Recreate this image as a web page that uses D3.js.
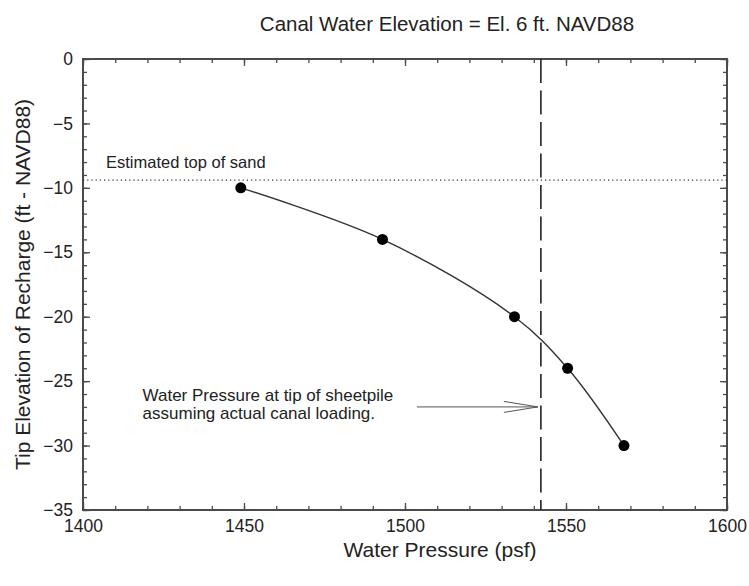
<!DOCTYPE html>
<html>
<head>
<meta charset="utf-8">
<script src="https://cdn.jsdelivr.net/npm/d3@7"></script>
<style>
  body { margin: 0; background: #fff; }
  text { font-family: "Liberation Sans", Arial, sans-serif; fill: #222; }
</style>
</head>
<body>
<svg id="chart"></svg>
<script>
// data
const pressure = [1449, 1493, 1534, 1550.5, 1568];   // psf
const tipElev = [-10, -14, -20, -24, -30];            // ft NAVD88
const xTicks = [1400, 1450, 1500, 1550, 1600];
const yTicks = [0, -5, -10, -15, -20, -25, -30, -35];
const sandTop = -9.4;
const sheetpilePressure = 1542.2;
const arrowElev = -27;

const width = 749, height = 586;
const margin = { top: 59, right: 22, bottom: 76, left: 83 };
const innerW = width - margin.left - margin.right;
const innerH = height - margin.top - margin.bottom;
const axisColor = '#4a4a4a';

const svg = d3.select('#chart').attr('width', width).attr('height', height);
const g = svg.append('g').attr('transform', `translate(${margin.left},${margin.top})`);

const x = d3.scaleLinear().domain([1400, 1600]).range([0, innerW]);
const y = d3.scaleLinear().domain([-35, 0]).range([innerH, 0]);

const minorX = d3.range(1400, 1601, 10);
const minorY = d3.range(-35, 1, 1);

// ticks pointing inward on all four sides
function styleAxis(sel) {
  sel.select('.domain').remove();
  sel.selectAll('line').attr('stroke', axisColor).attr('stroke-width', 1.3);
}
g.append('g').attr('transform', `translate(0,${innerH})`)
  .call(d3.axisBottom(x).tickValues(minorX).tickSize(-4).tickFormat(''))
  .call(styleAxis);
g.append('g').attr('transform', `translate(0,${innerH})`)
  .call(d3.axisBottom(x).tickValues(xTicks).tickSize(-7).tickPadding(10).tickFormat(d3.format('d')))
  .call(styleAxis)
  .selectAll('text').style('font-size', '17.5px').attr('fill', '#222');
g.append('g')
  .call(d3.axisTop(x).tickValues(minorX).tickSize(-4).tickFormat(''))
  .call(styleAxis);
g.append('g')
  .call(d3.axisTop(x).tickValues(xTicks).tickSize(-7).tickFormat(''))
  .call(styleAxis);
g.append('g')
  .call(d3.axisLeft(y).tickValues(minorY).tickSize(-4).tickFormat(''))
  .call(styleAxis);
g.append('g')
  .call(d3.axisLeft(y).tickValues(yTicks).tickSize(-7).tickPadding(10).tickFormat(d3.format('d')))
  .call(styleAxis)
  .selectAll('text').style('font-size', '17.5px').attr('fill', '#222');
g.append('g').attr('transform', `translate(${innerW},0)`)
  .call(d3.axisRight(y).tickValues(minorY).tickSize(-4).tickFormat(''))
  .call(styleAxis);
g.append('g').attr('transform', `translate(${innerW},0)`)
  .call(d3.axisRight(y).tickValues(yTicks).tickSize(-7).tickFormat(''))
  .call(styleAxis);

// frame
g.append('rect').attr('width', innerW).attr('height', innerH)
  .attr('fill', 'none').attr('stroke', axisColor).attr('stroke-width', 2);

// estimated top of sand
g.append('line')
  .attr('x1', 0).attr('x2', innerW)
  .attr('y1', y(sandTop)).attr('y2', y(sandTop))
  .attr('stroke', '#333').attr('stroke-width', 1.2).attr('stroke-dasharray', '1.2,3');
g.append('text').attr('x', 23).attr('y', y(sandTop) - 12)
  .style('font-size', '16.5px').text('Estimated top of sand');

// sheetpile pressure line
g.append('line')
  .attr('x1', x(sheetpilePressure)).attr('x2', x(sheetpilePressure))
  .attr('y1', 0).attr('y2', innerH)
  .attr('stroke', '#222').attr('stroke-width', 1.6).attr('stroke-dasharray', '24,7.5');

// curve through the points
const pts = pressure.map((p, i) => [p, tipElev[i]]);
g.append('path').datum(pts)
  .attr('fill', 'none').attr('stroke', '#333').attr('stroke-width', 1.4)
  .attr('d', d3.line().x(d => x(d[0])).y(d => y(d[1])).curve(d3.curveCatmullRom));
g.selectAll('circle.pt').data(pts).join('circle')
  .attr('class', 'pt')
  .attr('cx', d => x(d[0])).attr('cy', d => y(d[1])).attr('r', 5.5)
  .attr('fill', '#000');

// annotation with arrow
const ay = y(arrowElev);
g.append('text').attr('x', x(1418.5)).attr('y', ay - 6)
  .style('font-size', '17px').text('Water Pressure at tip of sheetpile');
g.append('text').attr('x', x(1418.5)).attr('y', ay + 12)
  .style('font-size', '17px').text('assuming actual canal loading.');
const ax0 = x(1503.7), ax1 = x(sheetpilePressure) - 3;
g.append('line').attr('x1', ax0).attr('x2', ax1).attr('y1', ay).attr('y2', ay)
  .attr('stroke', '#555').attr('stroke-width', 1);
g.append('path')
  .attr('d', `M${ax1 - 34},${ay - 5.5}L${ax1},${ay}L${ax1 - 34},${ay + 5.5}`)
  .attr('fill', 'none').attr('stroke', '#555').attr('stroke-width', 1);

// titles
svg.append('text').attr('x', 447).attr('y', 31)
  .attr('text-anchor', 'middle').style('font-size', '20.5px')
  .text('Canal Water Elevation = El. 6 ft. NAVD88');
svg.append('text').attr('x', 440).attr('y', 557)
  .attr('text-anchor', 'middle').style('font-size', '21px')
  .text('Water Pressure (psf)');
svg.append('text')
  .attr('transform', `translate(30,${margin.top + innerH / 2}) rotate(-90)`)
  .attr('text-anchor', 'middle').style('font-size', '21px')
  .text('Tip Elevation of Recharge (ft - NAVD88)');
</script>
</body>
</html>
